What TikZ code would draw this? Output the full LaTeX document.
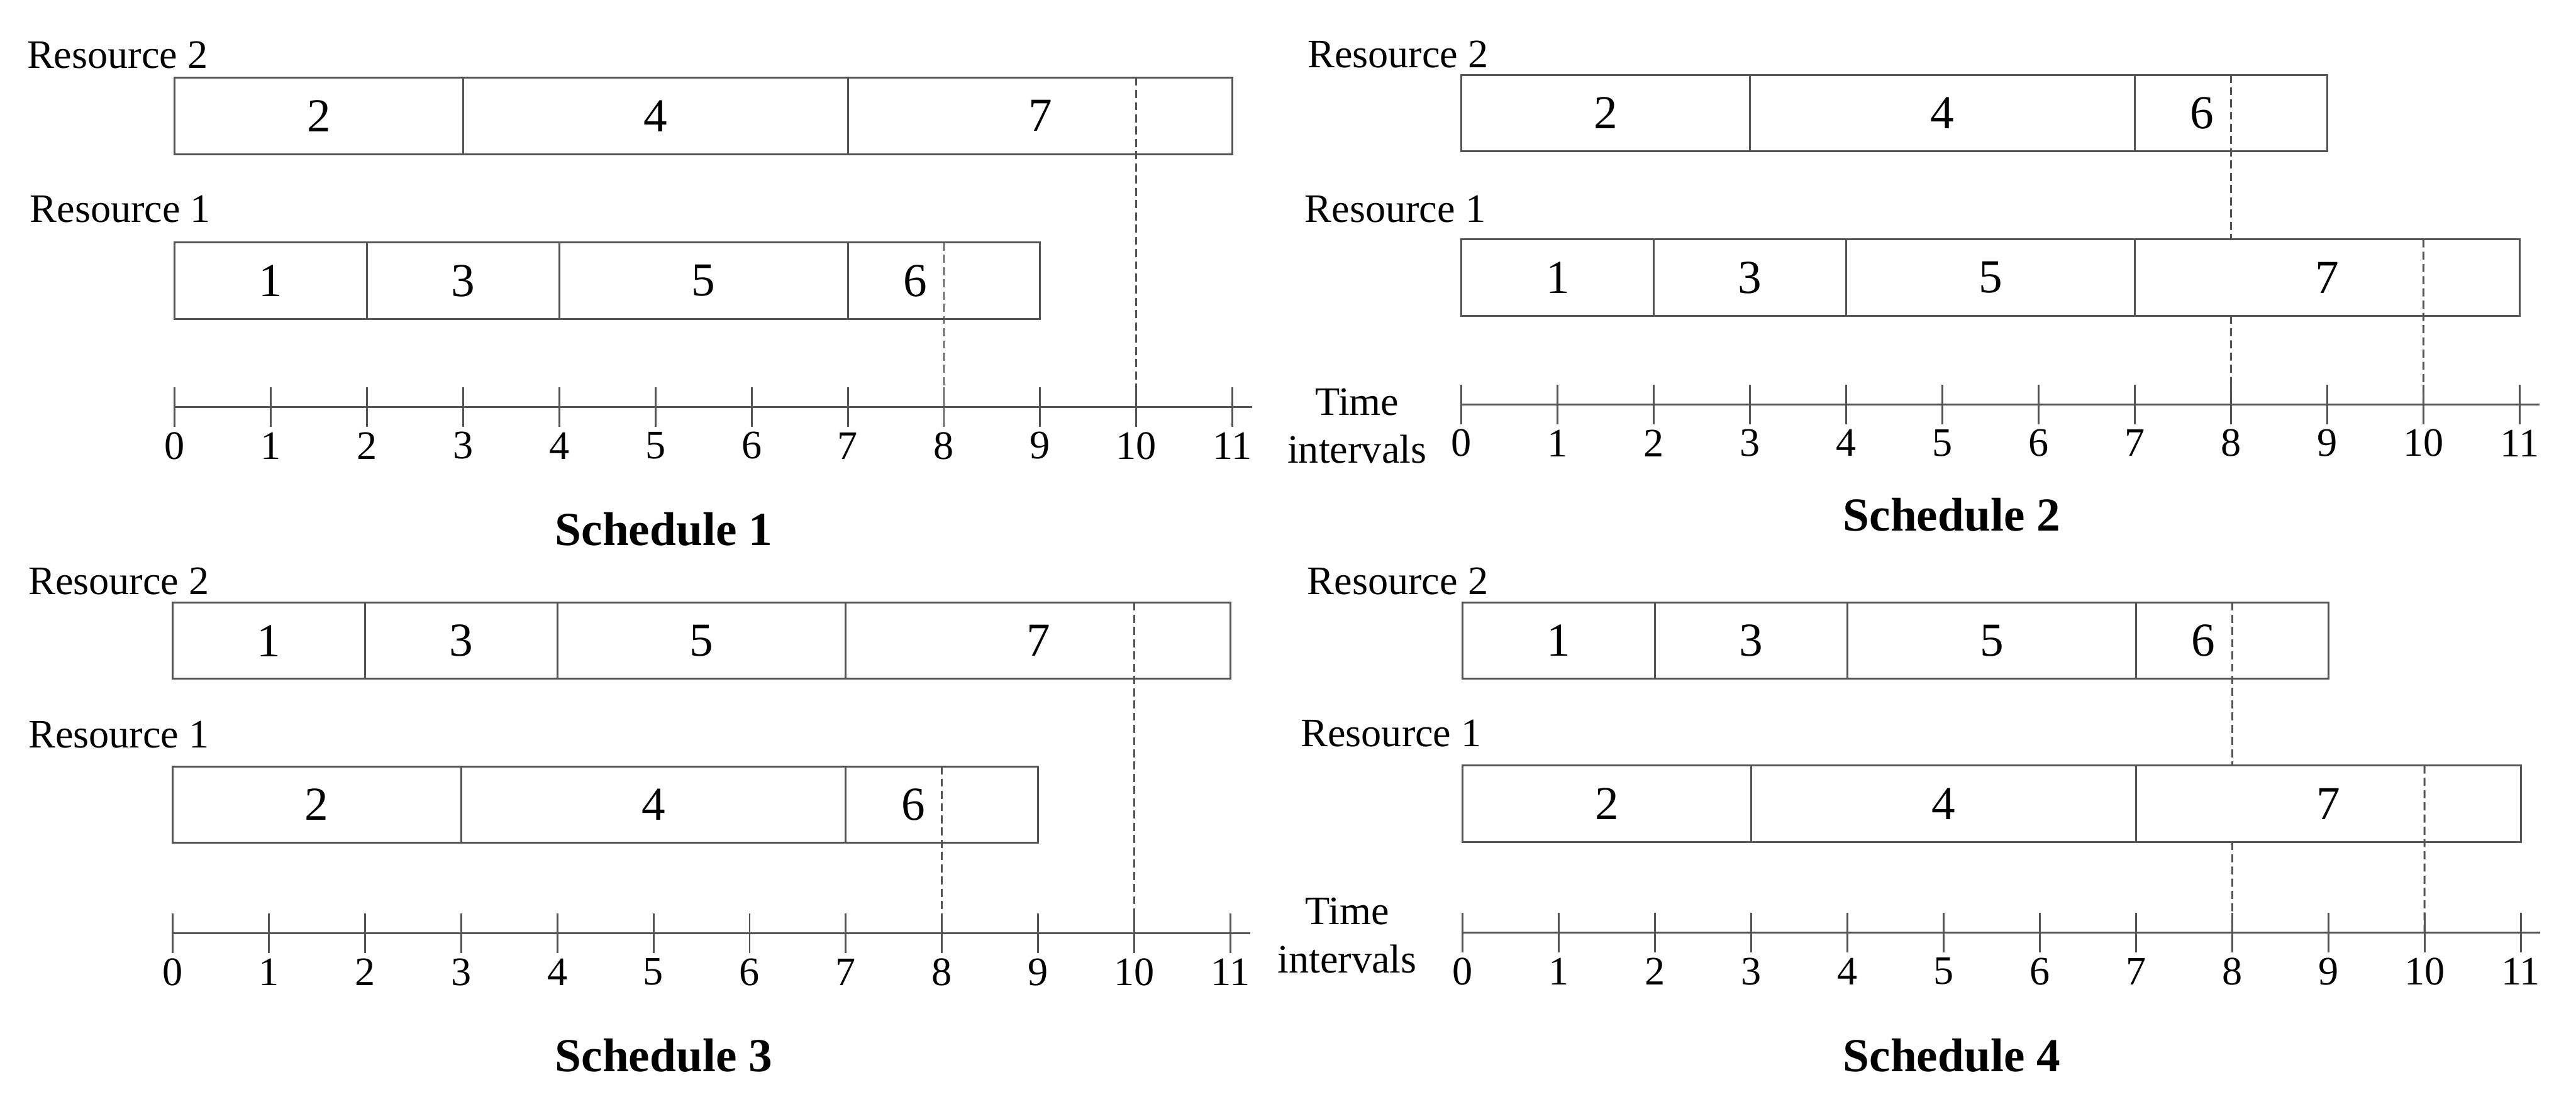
\documentclass[tikz,border=0pt]{standalone}
\usepackage{fontspec}
\setmainfont{Liberation Serif}
\usetikzlibrary{calc}
\definecolor{linecol}{gray}{0.33}
\def\U{58.55}
\newcommand\resrow[6]{%
  \node[taskbox, minimum width={#4*\U*0.25mm}] (#1) at (#2,#3) {};
  \foreach \d in {#5} {\draw[ln] ($(#1.north west)+(\d*\U,0)$) -- ($(#1.south west)+(\d*\U,0)$);}
  \foreach \p/\lbl in {#6} {\node[tasklab] at ($(#1.west)+(\p*\U,0)$) {\lbl};}
}
\newcommand\timeaxis[3]{%
  \coordinate (#1s) at (#2,#3);
  \coordinate (#1e) at ({#2+11*\U+12},#3);
  \draw[ln] (#1s) -- (#1e);
  \foreach \i in {0,...,11} {
    \coordinate (#1t\i) at ({#2+\i*\U},#3);
    \draw[ln] ($(#1t\i)+(0,-12)$) -- ($(#1t\i)+(0,12)$);
    \node[ticklab] at ($(#1t\i)+(0,23.5)$) {\i};
  }
}
\begin{document}
\begin{tikzpicture}[x=0.25mm,y=-0.25mm,
  ln/.style={line width=0.8pt, draw=linecol},
  dsh/.style={line width=0.8pt, draw=linecol, dash pattern=on 3.5pt off 1.8pt},
  taskbox/.style={draw=linecol, line width=0.8pt, anchor=north west, inner sep=0pt, outer sep=0pt, minimum height=11.625mm},
  reslab/.style={anchor=base west, inner sep=0pt, font=\fontsize{17.5}{20}\selectfont},
  tasklab/.style={inner sep=0pt, font=\fontsize{20.5}{24}\selectfont},
  ticklab/.style={inner sep=0pt, font=\fontsize{17.5}{20}\selectfont},
  timelab/.style={anchor=base, inner sep=0pt, font=\fontsize{17.5}{20}\selectfont},
  schedlab/.style={anchor=base, inner sep=0pt, font=\fontsize{20.5}{24}\selectfont\bfseries},
]
\fill[white] (0,0) rectangle (1568,668);
\useasboundingbox (0,0) rectangle (1568,668);

% ---------- Schedule 1 ----------
\node[reslab] (p1lab2) at (16.2,41.6) {Resource 2};
\resrow{p1r2}{106.2}{47.3}{11}{3,7}{1.5/2,5/4,9/7}
\node[reslab] (p1lab1) at (18,135.2) {Resource 1};
\resrow{p1r1}{106.2}{147.7}{9}{2,4,7}{1/1,3/3,5.5/5,7.7/6}
\timeaxis{p1}{106.2}{247.9}
\draw[dsh] ($(p1r2.north west)+(10*\U,0)$) -- (p1t10);
\draw[dsh] ($(p1r1.north west)+(8*\U,0)$) -- (p1t8);
\node[schedlab] (p1title) at (404,332) {Schedule 1};

% ---------- Schedule 2 ----------
\node[reslab] (p2lab2) at (795.7,41.2) {Resource 2};
\resrow{p2r2}{889.6}{45.6}{9}{3,7}{1.5/2,5/4,7.7/6}
\node[reslab] (p2lab1) at (794,135.2) {Resource 1};
\resrow{p2r1}{889.6}{145.8}{11}{2,4,7}{1/1,3/3,5.5/5,9/7}
\timeaxis{p2}{889.6}{246.3}
\draw[dsh] ($(p2r2.north west)+(8*\U,0)$) -- ($(p2r1.north west)+(8*\U,0)$);
\draw[dsh] ($(p2r1.south west)+(8*\U,0)$) -- (p2t8);
\draw[dsh] ($(p2r1.north west)+(10*\U,0)$) -- (p2t10);
\node[timelab] (p2time) at (826,253) {Time};
\node[timelab] (p2int) at (826,282) {intervals};
\node[schedlab] (p2title) at (1188,323.3) {Schedule 2};

% ---------- Schedule 3 ----------
\node[reslab] (p3lab2) at (17,361.9) {Resource 2};
\resrow{p3r2}{105}{366.9}{11}{2,4,7}{1/1,3/3,5.5/5,9/7}
\node[reslab] (p3lab1) at (17,455.2) {Resource 1};
\resrow{p3r1}{105}{466.7}{9}{3,7}{1.5/2,5/4,7.7/6}
\timeaxis{p3}{105}{568.4}
\draw[dsh] ($(p3r2.north west)+(10*\U,0)$) -- (p3t10);
\draw[dsh] ($(p3r1.north west)+(8*\U,0)$) -- (p3t8);
\node[schedlab] (p3title) at (404,652.5) {Schedule 3};

% ---------- Schedule 4 ----------
\node[reslab] (p4lab2) at (795.5,361.8) {Resource 2};
\resrow{p4r2}{890.3}{366.8}{9}{2,4,7}{1/1,3/3,5.5/5,7.7/6}
\node[reslab] (p4lab1) at (791.5,454.7) {Resource 1};
\resrow{p4r1}{890.3}{466.2}{11}{3,7}{1.5/2,5/4,9/7}
\timeaxis{p4}{890.3}{568}
\draw[dsh] ($(p4r2.north west)+(8*\U,0)$) -- ($(p4r1.north west)+(8*\U,0)$);
\draw[dsh] ($(p4r1.south west)+(8*\U,0)$) -- (p4t8);
\draw[dsh] ($(p4r1.north west)+(10*\U,0)$) -- (p4t10);
\node[timelab] (p4time) at (820,563) {Time};
\node[timelab] (p4int) at (820,592.4) {intervals};
\node[schedlab] (p4title) at (1188,652.5) {Schedule 4};
\end{tikzpicture}
\end{document}
